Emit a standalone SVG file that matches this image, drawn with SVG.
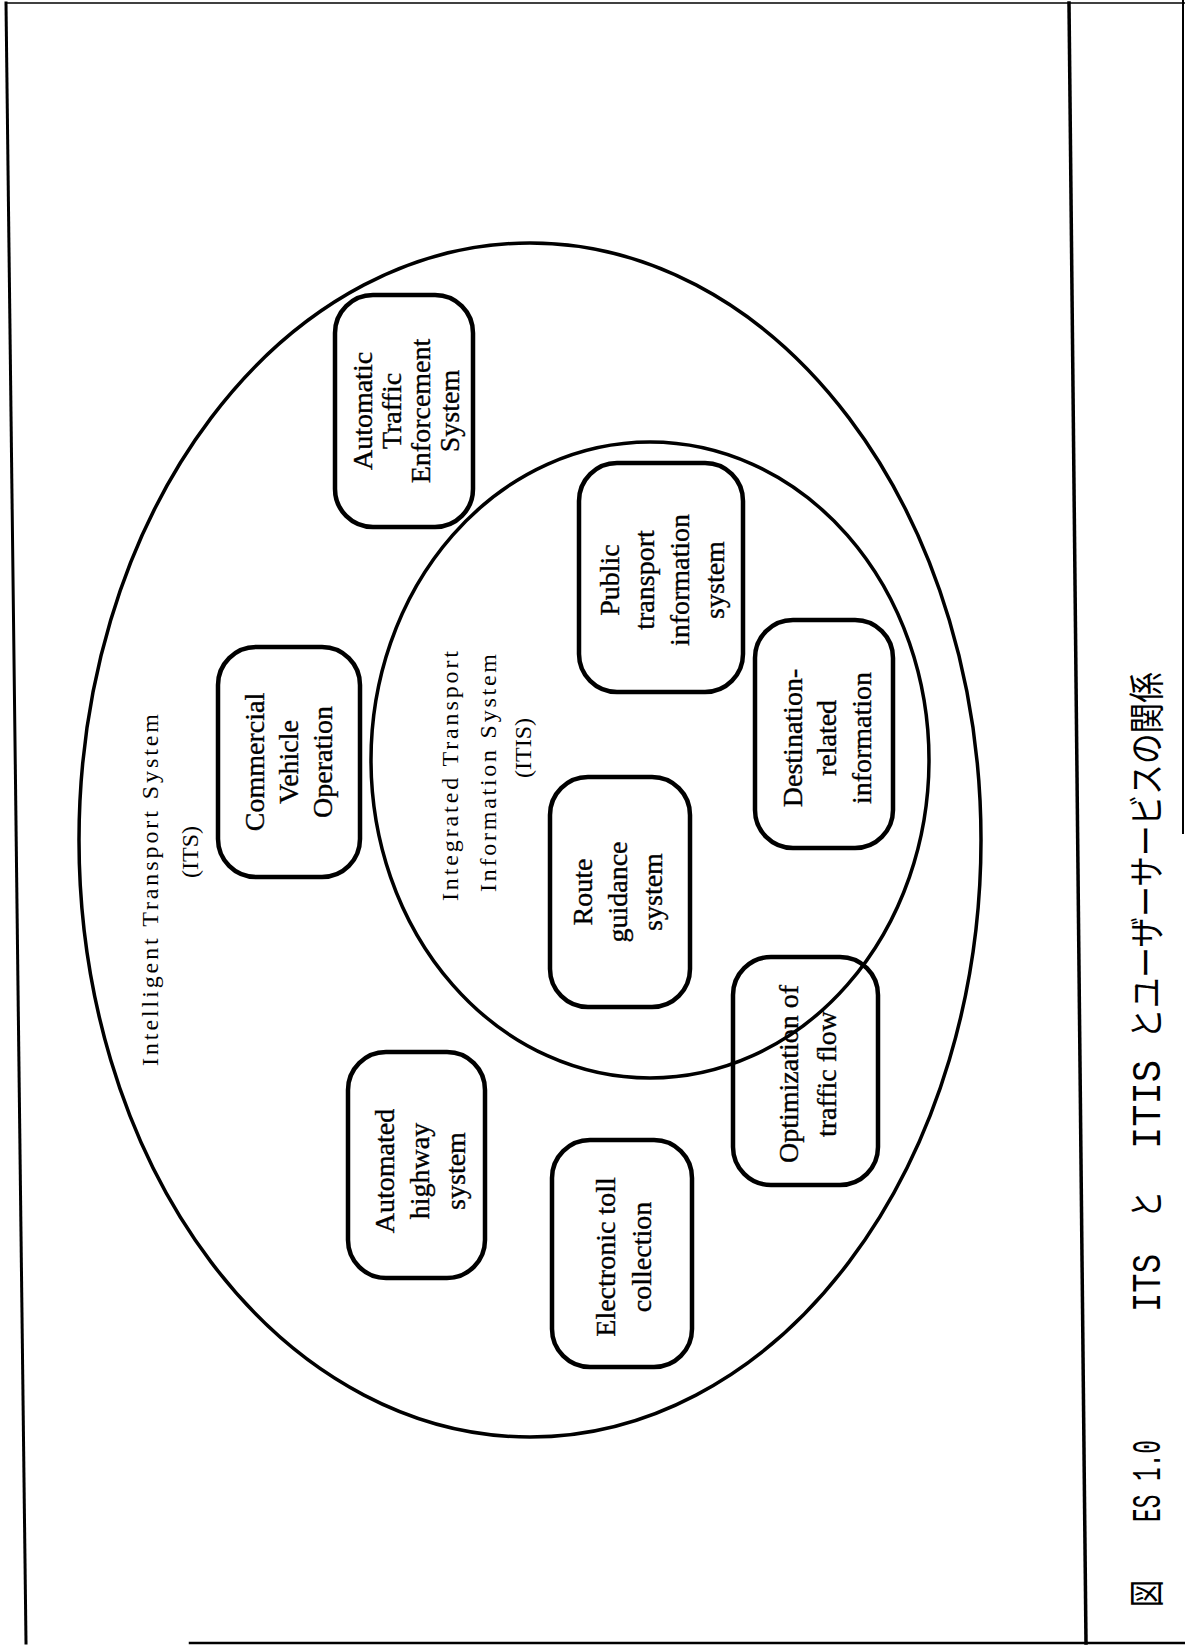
<svg xmlns="http://www.w3.org/2000/svg" width="1185" height="1646" viewBox="0 0 1185 1646">
  <style>
    .frame { fill: none; stroke: #000; stroke-linecap: square; }
    .set { fill: none; stroke: #000; stroke-width: 3.5; }
    .box { fill: none; stroke: #000; stroke-width: 4.5; }
    .lbl { font-family: "Liberation Serif", "Times New Roman", serif; font-size: 28px; fill: #000; stroke: #000; stroke-width: 0.35; text-anchor: middle; }
    .setlbl { font-family: "Liberation Serif", "Times New Roman", serif; font-size: 24px; fill: #000; text-anchor: middle; }
    .cap-lat { font-family: "Liberation Mono", "Courier New", monospace; font-size: 34px; fill: #000; }
    .cap-cjk { font-family: "Noto Sans CJK JP", sans-serif; font-size: 30px; fill: #000; }
  </style>
  <rect x="0" y="0" width="1185" height="1646" fill="#fff"/>

  <!-- page frame and caption strip -->
  <g id="frame">
    <line class="frame" x1="6" y1="3" x2="1185" y2="3" stroke-width="1.5"/>
    <line class="frame" x1="6" y1="3" x2="26" y2="1643" stroke-width="3"/>
    <line class="frame" x1="1069" y1="3" x2="1086" y2="1643" stroke-width="3.5"/>
    <line class="frame" x1="1183" y1="0" x2="1183" y2="833" stroke-width="2"/>
    <line class="frame" x1="190" y1="1643" x2="1185" y2="1643" stroke-width="2.5"/>
  </g>

  <!-- Intelligent Transport System (outer set) -->
  <g id="its">
    <ellipse class="set" cx="530" cy="840" rx="451" ry="597"/>
    <g transform="translate(150,890) rotate(-90)">
      <text class="setlbl" x="0" y="8" textLength="352" lengthAdjust="spacing">Intelligent Transport System</text>
    </g>
    <g transform="translate(190,852) rotate(-90)">
      <text class="setlbl" x="0" y="8">(ITS)</text>
    </g>
  </g>

  <!-- Integrated Transport Information System (inner set) -->
  <g id="itis">
    <ellipse class="set" cx="650" cy="760" rx="279" ry="318"/>
    <g transform="translate(450,776) rotate(-90)">
      <text class="setlbl" x="0" y="8" textLength="250" lengthAdjust="spacing">Integrated Transport</text>
    </g>
    <g transform="translate(488,773) rotate(-90)">
      <text class="setlbl" x="0" y="8" textLength="238" lengthAdjust="spacing">Information System</text>
    </g>
    <g transform="translate(523,748) rotate(-90)">
      <text class="setlbl" x="0" y="8">(ITIS)</text>
    </g>
  </g>

  <!-- user services -->
  <g id="ates">
    <rect class="box" x="335" y="295" width="138" height="232" rx="38"/>
    <g transform="translate(406,411) rotate(-90)">
      <text class="lbl"><tspan x="0" y="-34.5">Automatic</tspan><tspan x="0" y="-5.5">Traffic</tspan><tspan x="0" y="23.5">Enforcement</tspan><tspan x="0" y="52.5">System</tspan></text>
    </g>
  </g>

  <g id="cvo">
    <rect class="box" x="218" y="647" width="142" height="230" rx="38"/>
    <g transform="translate(289,762) rotate(-90)">
      <text class="lbl"><tspan x="0" y="-25">Commercial</tspan><tspan x="0" y="9">Vehicle</tspan><tspan x="0" y="43">Operation</tspan></text>
    </g>
  </g>

  <g id="ptis">
    <rect class="box" x="579" y="463" width="164" height="229" rx="38"/>
    <g transform="translate(662,580) rotate(-90)">
      <text class="lbl"><tspan x="0" y="-43.5">Public</tspan><tspan x="0" y="-8.5">transport</tspan><tspan x="0" y="26.5">information</tspan><tspan x="0" y="61.5">system</tspan></text>
    </g>
  </g>

  <g id="dri">
    <rect class="box" x="755" y="620" width="138" height="228" rx="38"/>
    <g transform="translate(827,738) rotate(-90)">
      <text class="lbl"><tspan x="0" y="-25.5">Destination-</tspan><tspan x="0" y="9">related</tspan><tspan x="0" y="43.5">information</tspan></text>
    </g>
  </g>

  <g id="rgs">
    <rect class="box" x="550" y="777" width="140" height="230" rx="38"/>
    <g transform="translate(618,892) rotate(-90)">
      <text class="lbl"><tspan x="0" y="-26">Route</tspan><tspan x="0" y="9">guidance</tspan><tspan x="0" y="44">system</tspan></text>
    </g>
  </g>

  <g id="otf">
    <rect class="box" x="733" y="957" width="145" height="228" rx="38"/>
    <g transform="translate(808,1074) rotate(-90)">
      <text class="lbl"><tspan x="0" y="-10">Optimization of</tspan><tspan x="0" y="28">traffic flow</tspan></text>
    </g>
  </g>

  <g id="etc">
    <rect class="box" x="552" y="1140" width="140" height="227" rx="38"/>
    <g transform="translate(624,1257) rotate(-90)">
      <text class="lbl"><tspan x="0" y="-9">Electronic toll</tspan><tspan x="0" y="27">collection</tspan></text>
    </g>
  </g>

  <g id="ahs">
    <rect class="box" x="348" y="1052" width="137" height="226" rx="38"/>
    <g transform="translate(420,1171) rotate(-90)">
      <text class="lbl"><tspan x="0" y="-26.5">Automated</tspan><tspan x="0" y="9">highway</tspan><tspan x="0" y="44.5">system</tspan></text>
    </g>
  </g>

  <!-- figure caption, set along the strip in tall narrow type -->
  <g id="caption" transform="translate(1148,0) rotate(-90) scale(1,1.2)">
    <text class="cap-cjk" x="-1607" y="10" textLength="27" lengthAdjust="spacingAndGlyphs">図</text>
    <text class="cap-lat" x="-1522" y="10" textLength="82" lengthAdjust="spacingAndGlyphs">ES 1.0</text>
    <text class="cap-lat" x="-1312" y="10" textLength="58" lengthAdjust="spacingAndGlyphs">ITS</text>
    <text class="cap-cjk" x="-1218" y="10" textLength="27" lengthAdjust="spacingAndGlyphs">と</text>
    <text class="cap-lat" x="-1149" y="10" textLength="89" lengthAdjust="spacingAndGlyphs">ITIS</text>
    <text class="cap-cjk" x="-1039" y="10" textLength="367" lengthAdjust="spacingAndGlyphs">とユーザーサービスの関係</text>
  </g>
</svg>
